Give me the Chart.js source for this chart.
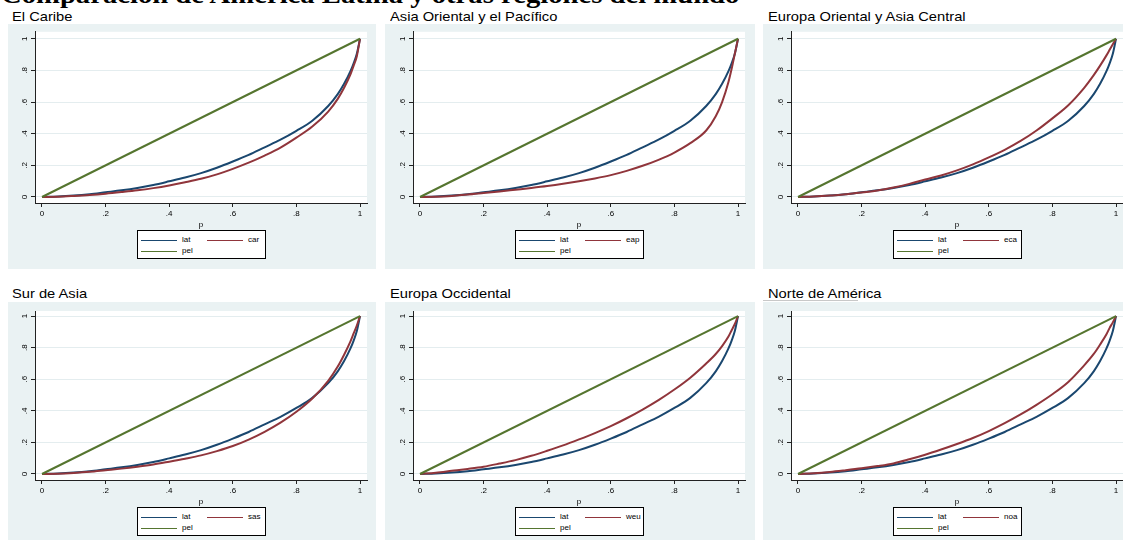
<!DOCTYPE html>
<html lang="es">
<head>
  <meta charset="UTF-8">
  <title>Comparación de América Latina y otras regiones del mundo</title>
  <style>
    body {
      margin: 0;
      background: #fff;
      font-family: "Liberation Sans", Arial, sans-serif;
      overflow: hidden;
    }
    #page {
      position: relative;
      width: 1123px;
      height: 541px;
      overflow: hidden;
    }
    .main-title {
      position: absolute;
      left: 1px;
      top: -17px;
      font-family: "Liberation Serif", "Times New Roman", serif;
      font-weight: bold;
      font-size: 24.5px;
      line-height: 24.5px;
      white-space: nowrap;
      transform: scaleX(1.17);
      transform-origin: left top;
    }
    .panel-title {
      position: absolute;
      font-size: 13px;
      line-height: 13px;
      white-space: nowrap;
      transform: scaleX(1.13);
      transform-origin: left top;
    }
    .panel {
      position: absolute;
      background: #eaf2f3;
    }
    .panel canvas { position: absolute; left: 0; top: 0; }
    .legend {
      position: absolute;
      width: 127px;
      height: 27px;
      background: #fff;
      border: 1px solid #000;
      font-size: 8px;
      color: #000;
    }
    .legend .swatch {
      position: absolute;
      width: 36px;
      height: 0;
      border-top: 1px solid;
    }
    .legend .lbl {
      position: absolute;
      line-height: 8px;
    }
    .rule {
      position: absolute;
      left: 763px;
      top: 300px;
      width: 95px;
      height: 1px;
      background: #c8c8c8;
    }
  </style>
</head>
<body>
<div id="page">
  <div class="main-title">Comparación de América Latina y otras regiones del mundo</div>
  <div class="rule"></div>
</div>

<script src="https://cdn.jsdelivr.net/npm/chart.js"></script>
<script>
// cumulative population share (p)
const pValues = [0, .05, .1, .15, .2, .25, .3, .35, .4, .45, .5, .55, .6, .65, .7, .75, .8, .85, .9, .93, .95, .97, .98, .99, 1];

// Lorenz curves
const latValues = [0, .003, .009, .018, .030, .042, .057, .076, .099, .123, .151, .185, .224, .266, .314, .362, .418, .482, .575, .650, .715, .795, .845, .905, 1];
const carValues = [0, .002, .007, .013, .021, .031, .042, .056, .073, .093, .115, .143, .178, .217, .262, .312, .375, .445, .540, .620, .690, .775, .830, .890, 1];
const eapValues = [0, .002, .007, .015, .025, .035, .046, .057, .069, .083, .099, .117, .138, .165, .197, .235, .281, .340, .420, .510, .600, .727, .810, .905, 1];
const ecaValues = [0, .003, .009, .018, .028, .041, .060, .083, .110, .136, .168, .206, .250, .298, .354, .420, .497, .580, .690, .770, .830, .895, .930, .965, 1];
const sasValues = [0, .002, .007, .014, .024, .034, .046, .060, .078, .097, .118, .145, .177, .218, .267, .325, .394, .478, .590, .680, .755, .840, .890, .940, 1];
const weuValues = [0, .008, .020, .032, .046, .066, .088, .115, .147, .181, .219, .259, .303, .353, .408, .468, .535, .610, .700, .760, .810, .870, .910, .950, 1];
const noaValues = [0, .005, .013, .024, .036, .050, .067, .093, .122, .155, .190, .228, .272, .322, .377, .438, .505, .583, .688, .760, .820, .885, .925, .960, 1];

// line of perfect equality
const pelP = [0, 1];
const pelValues = [0, 1];

const panelTitles = ['El Caribe', 'Asia Oriental y el Pacífico', 'Europa Oriental y Asia Central',
                     'Sur de Asia', 'Europa Occidental', 'Norte de América'];
const regionCodes = ['car', 'eap', 'eca', 'sas', 'weu', 'noa'];
const regionValues = [carValues, eapValues, ecaValues, sasValues, weuValues, noaValues];

const tickValues = [0, .2, .4, .6, .8, 1];
const tickLabels = ['0', '.2', '.4', '.6', '.8', '1'];

const NAVY = '#1a476f', MAROON = '#90353b', GREEN = '#55752f';

// layout of the 3x2 grid
const colLeft = [8, 385, 763];
const colWidth = [368, 370, 361];
const colAxis = [27, 28, 28];
const colTitleX = [12, 390, 768];
const rowTop = [24, 302];
const rowHeight = [245, 238];
const rowPadTop = [7, 9];
const rowPadBottom = [36, 30];
const rowYMax = [1.044, 1.032];
const rowTitleY = [10, 287];
const PLOT_W = 332;

const plotBg = {
  id: 'plotBg',
  beforeDraw(chart) {
    const a = chart.chartArea;
    chart.ctx.save();
    chart.ctx.fillStyle = '#fff';
    chart.ctx.fillRect(a.left, a.top, a.right - a.left, a.bottom - a.top);
    chart.ctx.restore();
  }
};

function toPoints(xs, ys) {
  return xs.map((x, i) => ({ x: x, y: ys[i] }));
}

const page = document.getElementById('page');

panelTitles.forEach((title, k) => {
  const col = k % 3, row = Math.floor(k / 3);

  const t = document.createElement('div');
  t.className = 'panel-title';
  t.style.left = colTitleX[col] + 'px';
  t.style.top = rowTitleY[row] + 'px';
  t.textContent = title;
  page.appendChild(t);

  const panel = document.createElement('div');
  panel.className = 'panel';
  panel.style.left = colLeft[col] + 'px';
  panel.style.top = rowTop[row] + 'px';
  panel.style.width = colWidth[col] + 'px';
  panel.style.height = rowHeight[row] + 'px';
  page.appendChild(panel);

  const canvas = document.createElement('canvas');
  canvas.width = colWidth[col];
  canvas.height = rowHeight[row];
  panel.appendChild(canvas);

  const datasets = [
    { label: 'lat', data: toPoints(pValues, latValues), borderColor: NAVY, order: 3 },
    { label: regionCodes[k], data: toPoints(pValues, regionValues[k]), borderColor: MAROON, order: 2 },
    { label: 'pel', data: toPoints(pelP, pelValues), borderColor: GREEN, order: 1 }
  ];

  new Chart(canvas.getContext('2d'), {
    type: 'line',
    data: { datasets: datasets },
    options: {
      responsive: false,
      animation: false,
      devicePixelRatio: 1,
      layout: {
        padding: {
          left: 0,
          top: rowPadTop[row],
          right: colWidth[col] - colAxis[col] - PLOT_W,
          bottom: rowPadBottom[row]
        }
      },
      elements: {
        point: { radius: 0 },
        line: { borderWidth: 2, cubicInterpolationMode: 'monotone' }
      },
      plugins: {
        legend: { display: false },
        tooltip: { enabled: false }
      },
      scales: {
        x: {
          type: 'linear',
          min: -0.022,
          max: 1.022,
          afterBuildTicks: s => { s.ticks = tickValues.map(v => ({ value: v })); },
          afterFit: s => { s.height = 30; },
          ticks: {
            callback: (v, i) => tickLabels[i],
            font: { family: 'Liberation Sans', size: 8 },
            color: '#000',
            padding: 2,
            maxRotation: 0
          },
          grid: { display: true, drawOnChartArea: false, drawTicks: true, tickLength: 4, tickColor: '#222' },
          border: { display: true, color: '#222', width: 1 },
          title: {
            display: true,
            text: 'p',
            color: '#000',
            font: { family: 'Liberation Sans', size: 8 },
            padding: { top: 0, bottom: 3 }
          }
        },
        y: {
          type: 'linear',
          min: -0.038,
          max: rowYMax[row],
          afterBuildTicks: s => { s.ticks = tickValues.map(v => ({ value: v })); },
          afterFit: s => { s.width = colAxis[col]; },
          ticks: {
            callback: (v, i) => tickLabels[i],
            font: { family: 'Liberation Sans', size: 8 },
            color: '#000',
            padding: 3,
            minRotation: 90,
            maxRotation: 90,
            crossAlign: 'center'
          },
          grid: { color: '#e4edef', lineWidth: 1, drawTicks: true, tickLength: 4, tickColor: '#222' },
          border: { display: true, color: '#222', width: 1 }
        }
      }
    },
    plugins: [plotBg]
  });

  // legend box, built from the datasets
  const legend = document.createElement('div');
  legend.className = 'legend';
  legend.style.left = (colAxis[col] + PLOT_W / 2 - 64) + 'px';
  legend.style.top = (row === 0 ? 206 : 205) + 'px';
  const slots = [[3, 9, 44], [69, 9, 110], [3, 20, 44]];
  datasets.forEach((ds, j) => {
    const sw = document.createElement('div');
    sw.className = 'swatch';
    sw.style.left = slots[j][0] + 'px';
    sw.style.top = slots[j][1] + 'px';
    sw.style.borderTopColor = ds.borderColor;
    legend.appendChild(sw);
    const lb = document.createElement('div');
    lb.className = 'lbl';
    lb.style.left = slots[j][2] + 'px';
    lb.style.top = (slots[j][1] - 4) + 'px';
    lb.textContent = ds.label;
    legend.appendChild(lb);
  });
  panel.appendChild(legend);
});
</script>
</body>
</html>
